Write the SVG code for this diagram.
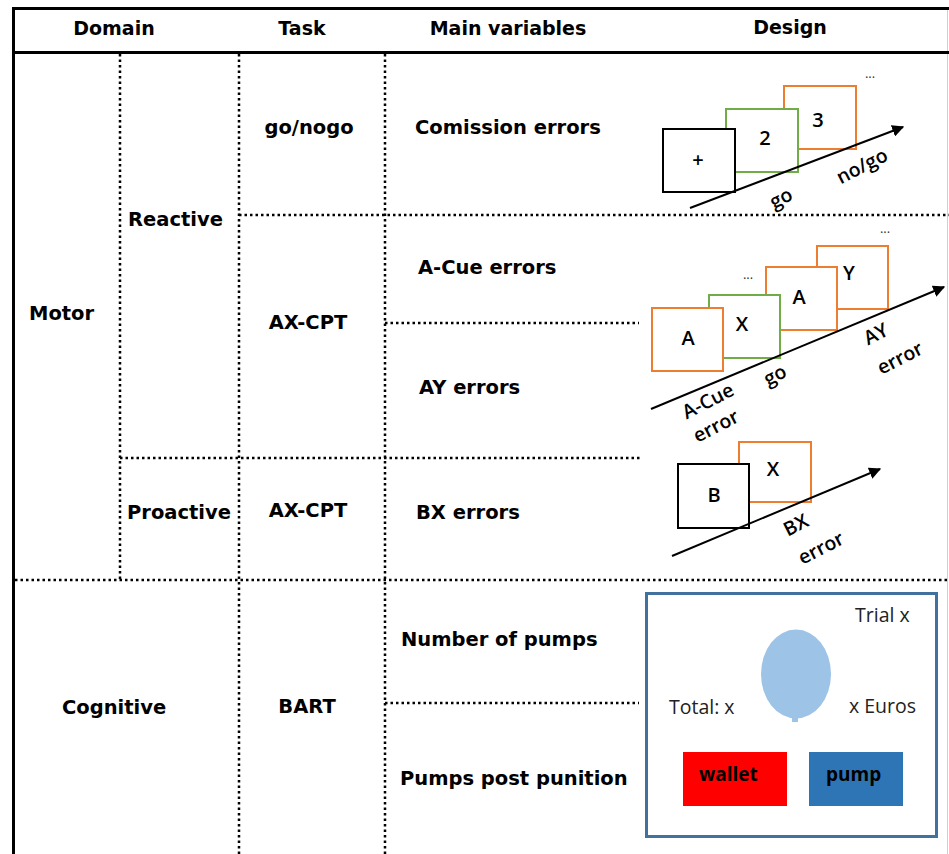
<svg xmlns="http://www.w3.org/2000/svg" width="949" height="854" viewBox="0 0 949 854">
<defs>
<style>
.solid{stroke:#000;stroke-width:3;fill:none}
.dot{stroke:#000;stroke-width:2.5;stroke-dasharray:2.5 3;fill:none}
.hd{font-family:"DejaVu Sans",Verdana,sans-serif;font-weight:bold;font-size:19px;fill:#000}
.tx{font-family:"DejaVu Sans",Verdana,sans-serif;font-weight:bold;font-size:19.5px;fill:#000}
.bx{fill:#fff;stroke-width:2}
.k{stroke:#000}.g{stroke:#70AD47}.o{stroke:#ED7D31}
.lt{font-family:"Open Sans","Liberation Sans",sans-serif;font-weight:600;font-size:20px;fill:#000;text-anchor:middle}
.el{font-family:"Open Sans","Liberation Sans",sans-serif;font-size:13px;fill:#333;text-anchor:middle}
.rl{font-family:"Open Sans","Liberation Sans",sans-serif;font-weight:600;font-size:19.5px;fill:#000;text-anchor:middle}
.ar{stroke:#000;stroke-width:2;fill:none}
.bt{font-family:"Open Sans","Liberation Sans",sans-serif;font-size:19.5px;fill:#222}
.btb{font-family:"Open Sans","Liberation Sans",sans-serif;font-weight:bold;font-size:19px;fill:#000}
</style>
<marker id="ah" viewBox="0 0 10 10" refX="9" refY="5" markerWidth="6" markerHeight="6" orient="auto" markerUnits="strokeWidth">
<path d="M0,0 L10,5 L0,10 z" fill="#000"/>
</marker>
</defs>
<rect width="949" height="854" fill="#fff"/>

<g id="grid">
<line x1="947.5" y1="8" x2="947.5" y2="854" stroke="#d0d0d0" stroke-width="1"/>
<line class="solid" x1="12" y1="8.5" x2="949" y2="8.5"/>
<line class="solid" x1="13.5" y1="7" x2="13.5" y2="854"/>
<line class="solid" x1="12" y1="52.5" x2="949" y2="52.5"/>
<line class="dot" x1="120" y1="54" x2="120" y2="580"/>
<line class="dot" x1="239" y1="54" x2="239" y2="854"/>
<line class="dot" x1="385" y1="54" x2="385" y2="854"/>
<line class="dot" x1="239" y1="215" x2="949" y2="215"/>
<line class="dot" x1="385" y1="323" x2="639" y2="323"/>
<line class="dot" x1="120" y1="458" x2="640" y2="458"/>
<line class="dot" x1="15" y1="580" x2="949" y2="580"/>
<line class="dot" x1="385" y1="703" x2="639" y2="703"/>
</g>

<g id="header">
<text class="hd" x="114" y="35" text-anchor="middle">Domain</text>
<text class="hd" x="302" y="35" text-anchor="middle">Task</text>
<text class="hd" x="508" y="35" text-anchor="middle">Main variables</text>
<text class="hd" x="790" y="34" text-anchor="middle">Design</text>
</g>

<g id="domain">
<text class="tx" x="29" y="320">Motor</text>
<text class="tx" x="62" y="714">Cognitive</text>
<text class="tx" x="128" y="226">Reactive</text>
<text class="tx" x="127" y="519">Proactive</text>
</g>

<g id="task">
<text class="tx" x="309" y="134" text-anchor="middle">go/nogo</text>
<text class="tx" x="308" y="329" text-anchor="middle">AX-CPT</text>
<text class="tx" x="308" y="517" text-anchor="middle">AX-CPT</text>
<text class="tx" x="307" y="713" text-anchor="middle">BART</text>
</g>

<g id="variables">
<text class="tx" x="415" y="134">Comission errors</text>
<text class="tx" x="418" y="274">A-Cue errors</text>
<text class="tx" x="419" y="394">AY errors</text>
<text class="tx" x="416" y="519">BX errors</text>
<text class="tx" x="401" y="646">Number of pumps</text>
<text class="tx" x="400" y="785">Pumps post punition</text>
</g>

<g id="design-gonogo">
<rect class="bx o" x="784" y="86" width="72" height="63"/>
<rect class="bx g" x="726" y="109" width="72" height="63"/>
<rect class="bx k" x="663" y="129" width="72" height="63"/>
<text class="lt" x="698" y="167">+</text>
<text class="lt" x="765" y="145">2</text>
<text class="lt" x="818" y="127">3</text>
<text class="el" x="870" y="78">...</text>
<line class="ar" x1="690" y1="208" x2="903" y2="127" marker-end="url(#ah)"/>
<text class="rl" transform="translate(784,204) rotate(-27)">go</text>
<text class="rl" transform="translate(865,172) rotate(-27)">no/go</text>
</g>

<g id="design-axcpt">
<rect class="bx o" x="817" y="246" width="71" height="63"/>
<rect class="bx o" x="766" y="267" width="71" height="63"/>
<rect class="bx g" x="709" y="295" width="71" height="63"/>
<rect class="bx o" x="652" y="308" width="71" height="63"/>
<text class="lt" x="688" y="345">A</text>
<text class="lt" x="742" y="331">X</text>
<text class="lt" x="799" y="304">A</text>
<text class="lt" x="849" y="280">Y</text>
<text class="el" x="748" y="279">...</text>
<text class="el" x="885" y="233">...</text>
<line class="ar" x1="651" y1="409" x2="944" y2="287" marker-end="url(#ah)"/>
<text class="rl" transform="translate(711,407) rotate(-27)">A-Cue</text>
<text class="rl" transform="translate(719,432) rotate(-27)">error</text>
<text class="rl" transform="translate(778,381) rotate(-27)">go</text>
<text class="rl" transform="translate(879,340) rotate(-27)">AY</text>
<text class="rl" transform="translate(903,364) rotate(-27)">error</text>
</g>

<g id="design-bx">
<rect class="bx o" x="739" y="442" width="72" height="60"/>
<rect class="bx k" x="678" y="464" width="71" height="64"/>
<text class="lt" x="714" y="502">B</text>
<text class="lt" x="773" y="476">X</text>
<line class="ar" x1="672" y1="556" x2="880" y2="469" marker-end="url(#ah)"/>
<text class="rl" transform="translate(799,531) rotate(-27)">BX</text>
<text class="rl" transform="translate(824,554) rotate(-27)">error</text>
</g>

<g id="design-bart">
<rect x="646.5" y="593.5" width="290" height="243" fill="#fff" stroke="#41719C" stroke-width="3"/>
<text class="bt" x="855" y="622">Trial x</text>
<ellipse cx="796" cy="674" rx="35" ry="44.5" fill="#9DC3E6"/>
<rect x="792" y="715" width="6" height="7" fill="#9DC3E6"/>
<text class="bt" x="669" y="714">Total: x</text>
<text class="bt" x="849" y="713">x Euros</text>
<rect x="683" y="752" width="104" height="54" fill="#FF0000"/>
<text class="btb" x="699" y="781">wallet</text>
<rect x="809" y="752" width="94" height="54" fill="#2E75B6"/>
<text class="btb" x="826" y="781">pump</text>
</g>
</svg>
